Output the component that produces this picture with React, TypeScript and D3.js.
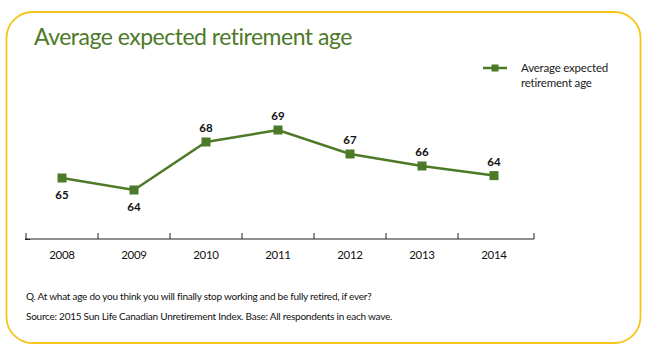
import React from 'react';
import * as d3 from 'd3';

const years = ['2008', '2009', '2010', '2011', '2012', '2013', '2014'];
// plotted positions
const ages = [65, 64, 68, 69, 67, 66, 65.2];
// labels as printed on the chart
const ageLabels = ['65', '64', '68', '69', '67', '66', '64'];
// label sits below the point for the first two, above for the rest
const labelBelow = [true, true, false, false, false, false, false];

const seriesName = ['Average expected', 'retirement age'];
const title = 'Average expected retirement age';
const notes = [
  'Q. At what age do you think you will finally stop working and be fully retired, if ever?',
  'Source: 2015 Sun Life Canadian Unretirement Index. Base: All respondents in each wave.'
];

const GREEN = '#4d7a28';
const YELLOW = '#f6c51b';
const FONT = 'Lato, "Open Sans", sans-serif';

export default function App(): JSX.Element {
  const width = 649;
  const height = 352;

  const x = d3.scaleBand().domain(years).range([26, 530]);
  const y = d3.scaleLinear().domain([60, 72]).range([238, 94]);
  const line = d3
    .line<number>()
    .x((d, i) => (x(years[i]) as number) + x.bandwidth() / 2)
    .y((d) => y(d));

  const axisY = 239;
  const ticks = [...years.map((yr) => x(yr) as number), 534];

  return (
    <svg width={width} height={height} style={{ position: 'absolute', left: 0, top: 0 }}>
      <rect x={0} y={0} width={width} height={height} fill="#fff" />
      <rect x={6.5} y={12} width={634} height={331} rx={26} ry={26} fill="none" stroke={YELLOW} strokeWidth={1.8} />
      <text x={34} y={45} fill={GREEN} fontFamily={FONT} fontSize={23} letterSpacing={-0.5}>
        {title}
      </text>

      {/* legend */}
      <line x1={483} x2={507} y1={68} y2={68} stroke={GREEN} strokeWidth={2.5} />
      <rect x={491.5} y={64.5} width={7} height={7} fill={GREEN} />
      {seriesName.map((s, i) => (
        <text key={s} x={521} y={72 + i * 15} fontFamily={FONT} fontSize={11.5} letterSpacing={-0.2} fill="#222">
          {s}
        </text>
      ))}

      {/* axis */}
      <line x1={25} x2={534} y1={axisY} y2={axisY} stroke="#222" strokeWidth={1} />
      <line x1={25} x2={30} y1={axisY + 0.5} y2={axisY + 0.5} stroke="#222" strokeWidth={1} />
      {ticks.map((t, i) => (
        <line key={i} x1={t} x2={t} y1={axisY - 6} y2={axisY} stroke="#222" strokeWidth={1} />
      ))}
      {years.map((yr) => (
        <text
          key={yr}
          x={(x(yr) as number) + x.bandwidth() / 2}
          y={259}
          textAnchor="middle"
          fontFamily={FONT}
          fontSize={11.5}
          letterSpacing={-0.3}
          fill="#111"
        >
          {yr}
        </text>
      ))}

      {/* series */}
      <path d={line(ages) || ''} fill="none" stroke={GREEN} strokeWidth={2.5} />
      {ages.map((v, i) => {
        const cx = (x(years[i]) as number) + x.bandwidth() / 2;
        return (
          <g key={i}>
            <rect x={cx - 4.5} y={y(v) - 4.5} width={9} height={9} fill={GREEN} />
            <text
              x={cx}
              y={labelBelow[i] ? y(v) + 21 : y(v) - 10}
              textAnchor="middle"
              fontFamily={FONT}
              fontWeight="bold"
              fontSize={11.5}
              fill="#111"
            >
              {ageLabels[i]}
            </text>
          </g>
        );
      })}

      {notes.map((n, i) => (
        <text key={i} x={26} y={300 + i * 20} fontFamily={FONT} fontSize={10} letterSpacing={-0.25} fill="#111">
          {n}
        </text>
      ))}
    </svg>
  );
}
